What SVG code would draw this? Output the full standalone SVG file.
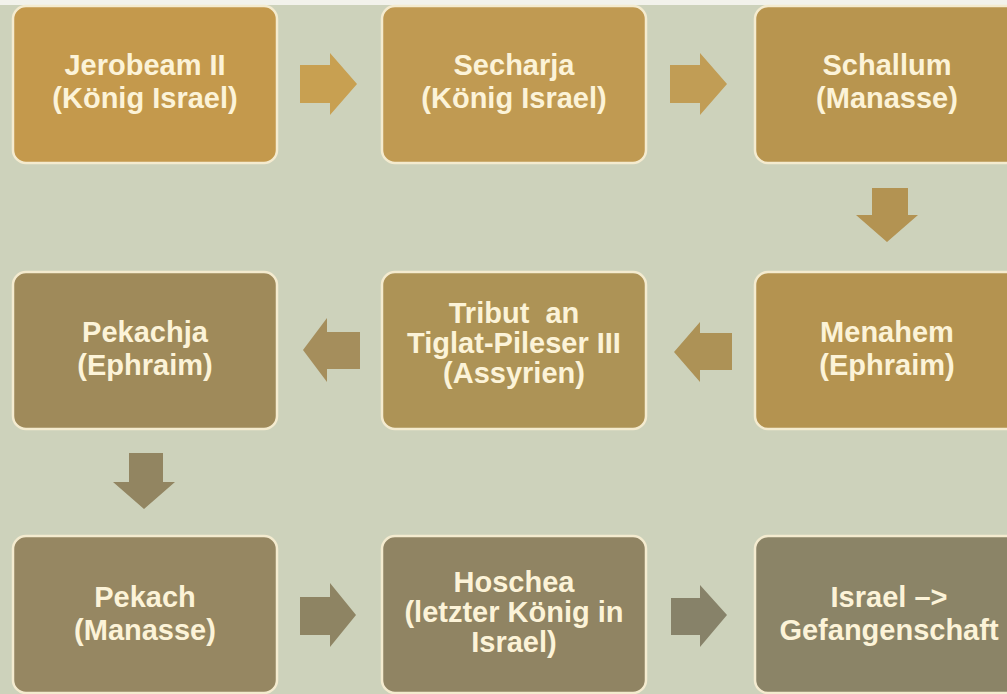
<svg xmlns="http://www.w3.org/2000/svg" width="1007" height="694" viewBox="0 0 1007 694">
  <defs>
    <style>
      .box { stroke: #f4ebcf; stroke-width: 2.5; }
      .lbl { font-family: "Liberation Sans", Arial, sans-serif; font-weight: bold; font-size: 29px; fill: #fcf3d8; text-anchor: middle; white-space: pre; }
    </style>
  </defs>
  <rect x="0" y="0" width="1007" height="694" fill="#cdd2bb"/>
  <rect x="0" y="0" width="1007" height="5" fill="#f2f2eb"/>

  <g id="n1">
    <rect class="box" x="13" y="6" width="264" height="157" rx="13" fill="#c4994c"/>
    <text class="lbl" x="145" y="75">Jerobeam II</text>
    <text class="lbl" x="145" y="108">(König Israel)</text>
  </g>
  <g id="n2">
    <rect class="box" x="382" y="6" width="264" height="157" rx="13" fill="#c09a52"/>
    <text class="lbl" x="514" y="75">Secharja</text>
    <text class="lbl" x="514" y="108">(König Israel)</text>
  </g>
  <g id="n3">
    <rect class="box" x="755" y="6" width="264" height="157" rx="13" fill="#b8954f"/>
    <text class="lbl" x="887" y="75">Schallum</text>
    <text class="lbl" x="887" y="108">(Manasse)</text>
  </g>
  <g id="n4">
    <rect class="box" x="755" y="272" width="264" height="157" rx="13" fill="#b49350"/>
    <text class="lbl" x="887" y="342">Menahem</text>
    <text class="lbl" x="887" y="375">(Ephraim)</text>
  </g>
  <g id="n5">
    <rect class="box" x="382" y="272" width="264" height="157" rx="13" fill="#ad9356"/>
    <text class="lbl" x="514" y="323">Tribut  an</text>
    <text class="lbl" x="514" y="353">Tiglat-Pileser III</text>
    <text class="lbl" x="514" y="383">(Assyrien)</text>
  </g>
  <g id="n6">
    <rect class="box" x="13" y="272" width="264" height="157" rx="13" fill="#9f8a5a"/>
    <text class="lbl" x="145" y="342">Pekachja</text>
    <text class="lbl" x="145" y="375">(Ephraim)</text>
  </g>
  <g id="n7">
    <rect class="box" x="13" y="536" width="264" height="157" rx="13" fill="#968762"/>
    <text class="lbl" x="145" y="607">Pekach</text>
    <text class="lbl" x="145" y="640">(Manasse)</text>
  </g>
  <g id="n8">
    <rect class="box" x="382" y="536" width="264" height="157" rx="13" fill="#908463"/>
    <text class="lbl" x="514" y="592">Hoschea</text>
    <text class="lbl" x="514" y="622">(letzter König in</text>
    <text class="lbl" x="514" y="652">Israel)</text>
  </g>
  <g id="n9">
    <rect class="box" x="755" y="536" width="264" height="157" rx="13" fill="#8b8467"/>
    <text class="lbl" x="889" y="607">Israel –&gt;</text>
    <text class="lbl" x="889" y="640">Gefangenschaft</text>
  </g>

  <g id="connectors">
    <polygon points="300,65 330,65 330,53 357,84 330,115 330,103 300,103" fill="#c8a051"/>
    <polygon points="670,65 700,65 700,53 727,84 700,115 700,103 670,103" fill="#c19d55"/>
    <polygon points="872,188 908,188 908,215 918,215 887,242 856,215 872,215" fill="#b39352"/>
    <polygon points="732,333 700,333 700,322 674,352 700,382 700,370 732,370" fill="#ad9256"/>
    <polygon points="360,332 327,332 327,318 303,350 327,382 327,369 360,369" fill="#a58e5c"/>
    <polygon points="129,453 163,453 163,482 175,482 144,509 113,482 129,482" fill="#928561"/>
    <polygon points="300,597 330,597 330,583 356,615 330,647 330,635 300,635" fill="#8e8463"/>
    <polygon points="671,598 700,598 700,585 727,615 700,647 700,635 671,635" fill="#878269"/>
  </g>
</svg>
